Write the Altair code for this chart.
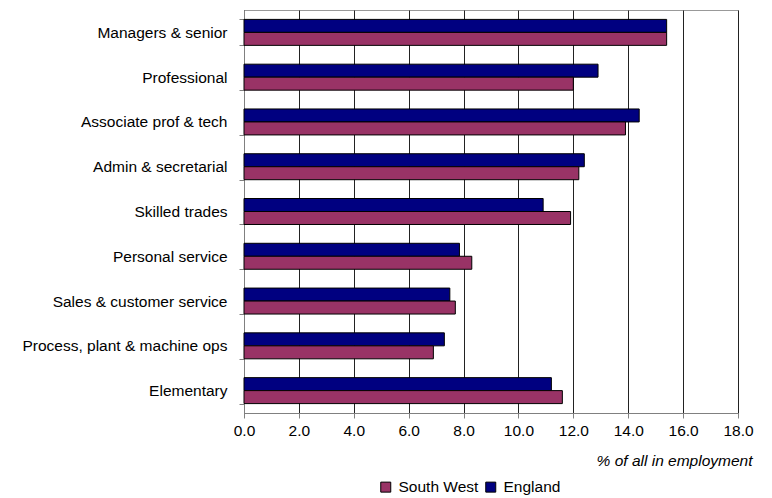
import altair as alt
import pandas as pd

categories = ["Managers & senior", "Professional", "Associate prof & tech",
              "Admin & secretarial", "Skilled trades", "Personal service",
              "Sales & customer service", "Process, plant & machine ops", "Elementary"]
england = [15.4, 12.9, 14.4, 12.4, 10.9, 7.85, 7.5, 7.3, 11.2]
south_west = [15.4, 12.0, 13.9, 12.2, 11.9, 8.3, 7.7, 6.9, 11.6]

rows = []
for c, e, s in zip(categories, england, south_west):
    rows.append({"cat": c, "series": "England", "value": e})
    rows.append({"cat": c, "series": "South West", "value": s})
df = pd.DataFrame(rows)

FONT = "Liberation Sans"
FS = 15.5

chart = alt.Chart(df).mark_bar(stroke="black", strokeWidth=1).encode(
    y=alt.Y("cat:N", sort=categories, title=None,
            scale=alt.Scale(paddingInner=0.42, paddingOuter=0.21),
            axis=alt.Axis(labelFont=FONT, labelFontSize=FS, labelColor="black",
                          labelPadding=12, tickBand="extent", tickSize=5,
                          tickColor="#808080", domainColor="#808080", grid=False,
                          labelLimit=400)),
    yOffset=alt.YOffset("series:N", sort=["England", "South West"]),
    x=alt.X("value:Q", title="% of all in employment",
            scale=alt.Scale(domain=[0, 18], nice=False),
            axis=alt.Axis(values=[0, 2, 4, 6, 8, 10, 12, 14, 16, 18], format=".1f",
                          labelFont=FONT, labelFontSize=FS, labelColor="black",
                          labelPadding=5, tickSize=5, tickColor="#808080",
                          labelFlush=False, labelOverlap=False,
                          domainColor="#808080", gridColor="#222222", gridWidth=1,
                          titleFont=FONT, titleFontSize=FS, titleFontStyle="italic",
                          titleFontWeight="normal", titleColor="black",
                          titleAnchor="end", titleAlign="right", titleX=508, titleY=40)),
    color=alt.Color("series:N", sort=["South West", "England"],
                    scale=alt.Scale(domain=["South West", "England"],
                                    range=["#993366", "#000080"]),
                    legend=alt.Legend(title=None, orient="none", direction="horizontal",
                                      legendX=134, legendY=469, symbolType="square",
                                      symbolSize=100, symbolStrokeColor="black",
                                      symbolStrokeWidth=1, labelFont=FONT,
                                      labelFontSize=FS, labelColor="black",
                                      columnPadding=4, symbolOffset=0, labelOffset=5)),
).properties(
    width=494, height=403,
    autosize=alt.AutoSizeParams(type="none"),
    padding={"left": 236, "top": 2, "right": 26, "bottom": 85},
).configure_view(
    stroke="#999999", strokeWidth=1
)

chart.save("out.html", embed_options={"renderer": "svg", "actions": False})
